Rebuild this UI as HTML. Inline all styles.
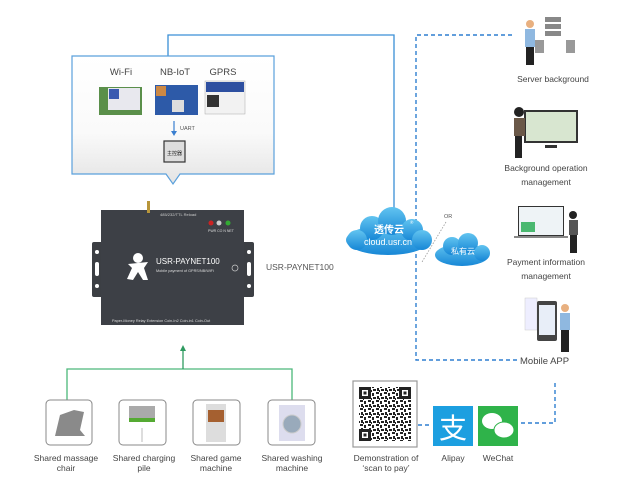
<!DOCTYPE html>
<html><head><meta charset="utf-8"><style>
body{margin:0;background:#fff;width:624px;height:492px;overflow:hidden}
svg{display:block}
text{font-family:"Liberation Sans","Noto Sans CJK SC",sans-serif}
</style></head><body>
<svg width="624" height="492" viewBox="0 0 624 492" xmlns="http://www.w3.org/2000/svg">
<defs>
<linearGradient id="bx" x1="0" y1="0" x2="0" y2="1"><stop offset="0" stop-color="#fff"/><stop offset="0.6" stop-color="#fafafa"/><stop offset="1" stop-color="#e4e4e4"/></linearGradient>
<linearGradient id="cl" x1="0" y1="0" x2="0" y2="1"><stop offset="0" stop-color="#62c4f0"/><stop offset="1" stop-color="#1787d6"/></linearGradient>
<pattern id="qr" width="8" height="8" patternUnits="userSpaceOnUse">
<rect width="8" height="8" fill="#fff"/><rect x="0" y="0" width="3" height="2" fill="#222"/><rect x="4" y="1" width="2" height="3" fill="#222"/><rect x="1" y="4" width="2" height="3" fill="#222"/><rect x="5" y="5" width="3" height="2" fill="#222"/><rect x="3" y="6" width="1" height="2" fill="#222"/>
</pattern>
</defs>
<g fill="#444">
<polyline points="168,56 168,35 394,35 394,212" fill="none" stroke="#3a8fd6" stroke-width="1.3"/>
<path d="M72,56 H274 V174 H180 L173,184 L166,174 H72 Z" fill="url(#bx)" stroke="#5aa0dc" stroke-width="1.2"/>
<text x="121" y="75" font-size="9.5" text-anchor="middle">Wi-Fi</text>
<text x="175" y="75" font-size="9.5" text-anchor="middle">NB-IoT</text>
<text x="223" y="75" font-size="9.5" text-anchor="middle">GPRS</text>
<rect x="99" y="87" width="43" height="28" fill="#5a8f4a"/><rect x="108" y="88" width="32" height="22" fill="#e8e8ee"/><rect x="109" y="89" width="10" height="10" fill="#3a5ab0"/>
<rect x="155" y="85" width="43" height="30" fill="#2d5aa8"/><rect x="156" y="86" width="10" height="10" fill="#c84"/><rect x="172" y="100" width="12" height="12" fill="#ddd"/>
<rect x="205" y="81" width="40" height="33" fill="#f2f2f2" stroke="#aaa" stroke-width=".5"/><rect x="206" y="82" width="38" height="10" fill="#2d4fa0"/><rect x="207" y="95" width="12" height="12" fill="#333"/>
<line x1="174" y1="121" x2="174" y2="132" stroke="#3a7fd0" stroke-width="1.2"/><polygon points="171,131 177,131 174,136" fill="#3a7fd0"/>
<text x="180" y="130" font-size="5.5" fill="#555">UART</text>
<rect x="164" y="141" width="21" height="21" fill="#ddd" stroke="#333" stroke-width="1.2"/><text x="174.5" y="155" font-size="5" text-anchor="middle" fill="#222">主控器</text>
<rect x="92" y="242" width="12" height="55" rx="2" fill="#3c3f44"/><rect x="241" y="242" width="13" height="55" rx="2" fill="#3c3f44"/>
<circle cx="97" cy="252" r="2" fill="#fff"/><circle cx="97" cy="286" r="2" fill="#fff"/><rect x="95" y="262" width="4" height="14" rx="2" fill="#fff"/>
<circle cx="249" cy="252" r="2" fill="#fff"/><circle cx="249" cy="286" r="2" fill="#fff"/><rect x="247" y="262" width="4" height="14" rx="2" fill="#fff"/>
<rect x="101" y="210" width="143" height="115" fill="#3d4046"/>
<rect x="147" y="201" width="3" height="12" fill="#b8963a"/>
<text x="160" y="216" font-size="4" fill="#ccc">485/232/TTL Reload</text>
<circle cx="211" cy="223" r="2.5" fill="#c22"/><circle cx="219" cy="223" r="2.5" fill="#ccc"/><circle cx="228" cy="223" r="2.5" fill="#3a3"/>
<text x="208" y="232" font-size="3.5" fill="#ddd">PWR CO N NET</text>
<circle cx="138" cy="258" r="5" fill="#fff"/><path d="M128,264 L148,262 L144,268 L148,280 L143,280 L138,272 L133,280 L127,279 L132,268Z" fill="#fff"/>
<text x="156" y="264" font-size="8" fill="#fff" font-family="Liberation Mono,monospace">USR-PAYNET100</text>
<text x="156" y="272" font-size="3.8" fill="#ddd" font-family="Liberation Mono,monospace">Mobile payment of GPRS/NB/WiFi</text>
<circle cx="235" cy="268" r="3" fill="none" stroke="#ccc" stroke-width=".7"/>
<text x="112" y="322" font-size="3.8" fill="#ddd">Paper-Money Relay Extension Coin-In2 Coin-in1 Coin-Out</text>
<text x="266" y="270" font-size="8.5" fill="#555">USR-PAYNET100</text>
<polyline points="512,35 416,35 416,360 518,360" fill="none" stroke="#2f7fd0" stroke-width="1.4" stroke-dasharray="4,3"/>
<polyline points="555,383 555,423 520,423" fill="none" stroke="#2f7fd0" stroke-width="1.4" stroke-dasharray="4,3"/>
<line x1="418" y1="425" x2="432" y2="425" stroke="#2f7fd0" stroke-width="1.4" stroke-dasharray="4,3"/>
<g fill="url(#cl)">
<ellipse cx="388" cy="240" rx="42" ry="15"/><circle cx="372" cy="228" r="12"/><circle cx="392" cy="221" r="14"/><circle cx="412" cy="230" r="11"/><circle cx="422" cy="240" r="10"/><circle cx="357" cy="240" r="10"/>
<ellipse cx="462" cy="255" rx="27" ry="11"/><circle cx="452" cy="246" r="9"/><circle cx="468" cy="243" r="10"/><circle cx="482" cy="253" r="8"/>
</g>
<text x="389" y="233" font-size="10" fill="#fff" font-weight="bold" text-anchor="middle">透传云</text>
<text x="410" y="224" font-size="4.5" fill="#fff">®</text>
<text x="388" y="245" font-size="9" fill="#fff" text-anchor="middle">cloud.usr.cn</text>
<text x="463" y="254" font-size="8" fill="#fff" text-anchor="middle">私有云</text>
<text x="444" y="218" font-size="5.5" fill="#555">OR</text>
<line x1="446" y1="222" x2="422" y2="262" stroke="#999" stroke-width=".8" stroke-dasharray="1.5,1.5"/>
<rect x="545" y="17" width="16" height="5" fill="#888"/><rect x="545" y="24" width="16" height="5" fill="#888"/><rect x="545" y="31" width="16" height="5" fill="#888"/>
<rect x="535" y="40" width="9" height="13" fill="#999"/><rect x="566" y="40" width="9" height="13" fill="#999"/>
<circle cx="530" cy="24" r="4" fill="#e8b080"/><rect x="525" y="29" width="10" height="18" fill="#8fb8e0"/><rect x="526" y="47" width="8" height="18" fill="#222"/>
<text x="553" y="82" font-size="8.5" text-anchor="middle">Server background</text>
<rect x="524" y="110" width="54" height="33" fill="#333"/><rect x="526" y="112" width="50" height="29" fill="#d8e6d0"/><rect x="545" y="145" width="12" height="3" fill="#333"/>
<circle cx="519" cy="112" r="5" fill="#222"/><rect x="514" y="118" width="11" height="18" fill="#6a5848"/><rect x="515" y="136" width="7" height="22" fill="#222"/>
<text x="546" y="171" font-size="8.5" text-anchor="middle">Background operation</text>
<text x="546" y="185" font-size="8.5" text-anchor="middle">management</text>
<rect x="518" y="206" width="46" height="30" fill="#333"/><rect x="519" y="207" width="44" height="28" fill="#eef3f6"/><rect x="521" y="222" width="14" height="10" fill="#4ab870"/><rect x="514" y="236" width="54" height="2" fill="#888"/>
<circle cx="573" cy="215" r="4" fill="#222"/><rect x="569" y="220" width="9" height="15" fill="#555"/><rect x="570" y="235" width="7" height="18" fill="#222"/>
<text x="546" y="265" font-size="8.5" text-anchor="middle">Payment information</text>
<text x="546" y="279" font-size="8.5" text-anchor="middle">management</text>
<rect x="525" y="298" width="12" height="32" fill="#eef" stroke="#ccc" stroke-width=".5"/><rect x="537" y="301" width="20" height="40" rx="2" fill="#444"/><rect x="539" y="305" width="16" height="30" fill="#e8eef8"/>
<circle cx="565" cy="308" r="4" fill="#e8b080"/><rect x="560" y="313" width="10" height="17" fill="#8fb8e0"/><rect x="561" y="330" width="8" height="22" fill="#222"/>
<text x="520" y="364" font-size="9.5" fill="#444">Mobile APP</text>
<polyline points="67,400 67,369 292,369 292,400" fill="none" stroke="#4cb87a" stroke-width="1.3"/>
<line x1="183" y1="369" x2="183" y2="350" stroke="#2f9a60" stroke-width="1.3"/><polygon points="180,351 186,351 183,345" fill="#2f9a60"/>
<g fill="#fff" stroke="#888" stroke-width="1">
<rect x="46" y="400" width="46" height="45" rx="4"/><rect x="119" y="400" width="47" height="45" rx="4"/><rect x="193" y="400" width="47" height="45" rx="4"/><rect x="268" y="400" width="47" height="45" rx="4"/>
</g>
<path d="M55,436 L60,415 L74,410 L84,412 L80,430 L85,436 Z" fill="#8a8a8a"/>
<rect x="129" y="406" width="26" height="12" fill="#aaa"/><rect x="129" y="418" width="26" height="4" fill="#5a3"/><rect x="141" y="428" width="2" height="14" fill="#ddd"/>
<rect x="206" y="404" width="20" height="38" fill="#ddd"/><rect x="208" y="410" width="16" height="12" fill="#a56030"/>
<rect x="279" y="405" width="26" height="36" fill="#dde"/><circle cx="292" cy="424" r="9" fill="#9ab" stroke="#ccc"/>
<g font-size="8.5" text-anchor="middle" fill="#444">
<text x="66" y="461">Shared massage</text><text x="66" y="471">chair</text>
<text x="144" y="461">Shared charging</text><text x="144" y="471">pile</text>
<text x="216" y="461">Shared game</text><text x="216" y="471">machine</text>
<text x="292" y="461">Shared washing</text><text x="292" y="471">machine</text>
<text x="386" y="461">Demonstration of</text><text x="386" y="471">‘scan to pay’</text>
<text x="453" y="461">Alipay</text><text x="498" y="461">WeChat</text>
</g>
<rect x="353" y="381" width="64" height="66" fill="#fff" stroke="#999" stroke-width="1.2"/>
<rect x="359" y="387" width="52" height="54" fill="url(#qr)"/>
<rect x="359" y="387" width="12" height="12" fill="#222"/><rect x="362" y="390" width="6" height="6" fill="#fff"/><rect x="363.5" y="391.5" width="3" height="3" fill="#222"/>
<rect x="399" y="387" width="12" height="12" fill="#222"/><rect x="402" y="390" width="6" height="6" fill="#fff"/><rect x="403.5" y="391.5" width="3" height="3" fill="#222"/>
<rect x="359" y="429" width="12" height="12" fill="#222"/><rect x="362" y="432" width="6" height="6" fill="#fff"/><rect x="363.5" y="433.5" width="3" height="3" fill="#222"/>
<rect x="433" y="406" width="40" height="40" fill="#1c9fe0"/><text x="453" y="438" font-size="28" fill="#fff" text-anchor="middle" font-family="Noto Sans CJK SC,sans-serif">支</text>
<rect x="478" y="406" width="40" height="40" fill="#2fb34a"/>
<ellipse cx="492" cy="421" rx="10" ry="8" fill="#fff"/><ellipse cx="504" cy="430" rx="10" ry="8" fill="#fff" stroke="#2fb34a"/>
</g>
</svg>
</body></html>
